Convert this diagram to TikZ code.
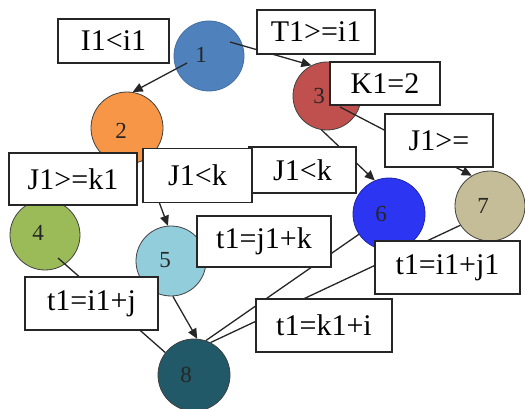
\documentclass[tikz,border=0pt]{standalone}
\usepackage{fontspec}
\setmainfont{Liberation Serif}
\usetikzlibrary{arrows.meta,calc}
\definecolor{cA}{HTML}{4F81BD}
\definecolor{cB}{HTML}{F79646}
\definecolor{cC}{HTML}{C0504D}
\definecolor{cD}{HTML}{9BBB59}
\definecolor{cE}{HTML}{92CDDC}
\definecolor{cF}{HTML}{2B35F2}
\definecolor{cG}{HTML}{C4BD97}
\definecolor{cH}{HTML}{215968}
\begin{document}
\begin{tikzpicture}[x=1pt,y=-1pt,
  vert/.style={circle, minimum size=70pt, inner sep=0pt, draw=black!75, line width=0.8pt},
  num/.style={font=\fontsize{23}{23}\selectfont, text=black!85, inner sep=0pt},
  lbl/.style={draw=black!85, line width=1.2pt, fill=white, font=\fontsize{30}{30}\selectfont, inner sep=0pt},
  edge/.style={line width=1.3pt, draw=black!85},
  arr/.style={edge, -{Triangle[length=10pt,width=9pt]}}]
\useasboundingbox (0,0) rectangle (525,409);
\fill[white] (0,0) rectangle (525,409);
% vertices
\node[vert, fill=cA, draw=cA!85!black] (n1) at (209,56) {};
\node[vert, fill=cB, minimum size=72pt] (n2) at (127,128) {};
\node[vert, fill=cC, minimum size=68pt] (n3) at (327,96) {};
\node[vert, fill=cD] (n4) at (45,235) {};
\node[vert, fill=cE] (n5) at (171,261) {};
\node[vert, fill=cF, draw=cF!70!black, minimum size=72pt] (n6) at (389,214) {};
\node[vert, fill=cG] (n7) at (490,206) {};
\node[vert, fill=cH, minimum size=72pt] (n8) at (194,375) {};
% numbers
\node[num] (m1) at ($(n1.center)+(-8,-1)$) {1};
\node[num] (m2) at ($(n2.center)+(-6,3)$) {2};
\node[num] (m3) at ($(n3.center)+(-8,0)$) {3};
\node[num] (m4) at ($(n4.center)+(-7,-2)$) {4};
\node[num] (m5) at ($(n5.center)+(-6,-1)$) {5};
\node[num] (m6) at ($(n6.center)+(-8,0)$) {6};
\node[num] (m7) at ($(n7.center)+(-7,0)$) {7};
\node[num] (m8) at ($(n8.center)+(-8,0)$) {8};
% connectors
\draw[arr] ($(n1.center)+(-22,7)$) -- (n2.81);
\draw[arr] ($(n1.center)+(21,-14)$) -- (n3.117);
\draw[arr] (n3.-99) -- (n6.113);
\draw[arr] ($(n3.center)+(13,11)$) -- (n7.121);
\draw[arr] (n2.-63) -- (n5.95);
\draw[arr] (n5.-87) -- (n8.85);
\draw[edge] ($(n4.center)+(13,23)$) -- (n8.142);
\draw[edge] (n6.214) -- (n8.71);
\draw[edge] (n7.213) -- (n8.63);
% labels
\node[lbl, minimum width=111pt, minimum height=44pt] (b1) at (113.5,41) {I1<i1};
\node[lbl, minimum width=118pt, minimum height=44pt] (b2) at (316,32) {T1>=i1};
\node[lbl, minimum width=110pt, minimum height=43pt] (b3) at (385,83.5) {K1=2};
\node[lbl, minimum width=108pt, minimum height=53pt] (b4) at (439,140.5) {J1>=};
\node[lbl, minimum width=107pt, minimum height=46pt] (b5) at (302.5,170) {J1<k};
\node[lbl, minimum width=128pt, minimum height=52pt] (b6) at (73,179) {J1>=k1};
\node[lbl, minimum width=109pt, minimum height=54pt] (b7) at (197.5,175.5) {J1<k};
\node[lbl, minimum width=134pt, minimum height=51pt] (b8) at (264,241.5) {t1=j1+k};
\node[lbl, minimum width=133pt, minimum height=53pt] (b9) at (91.5,303.5) {t1=i1+j};
\node[lbl, minimum width=145pt, minimum height=53pt] (b10) at (447.5,267.5) {t1=i1+j1};
\node[lbl, minimum width=136pt, minimum height=53pt] (b11) at (324,325.5) {t1=k1+i};
\end{tikzpicture}
\end{document}
